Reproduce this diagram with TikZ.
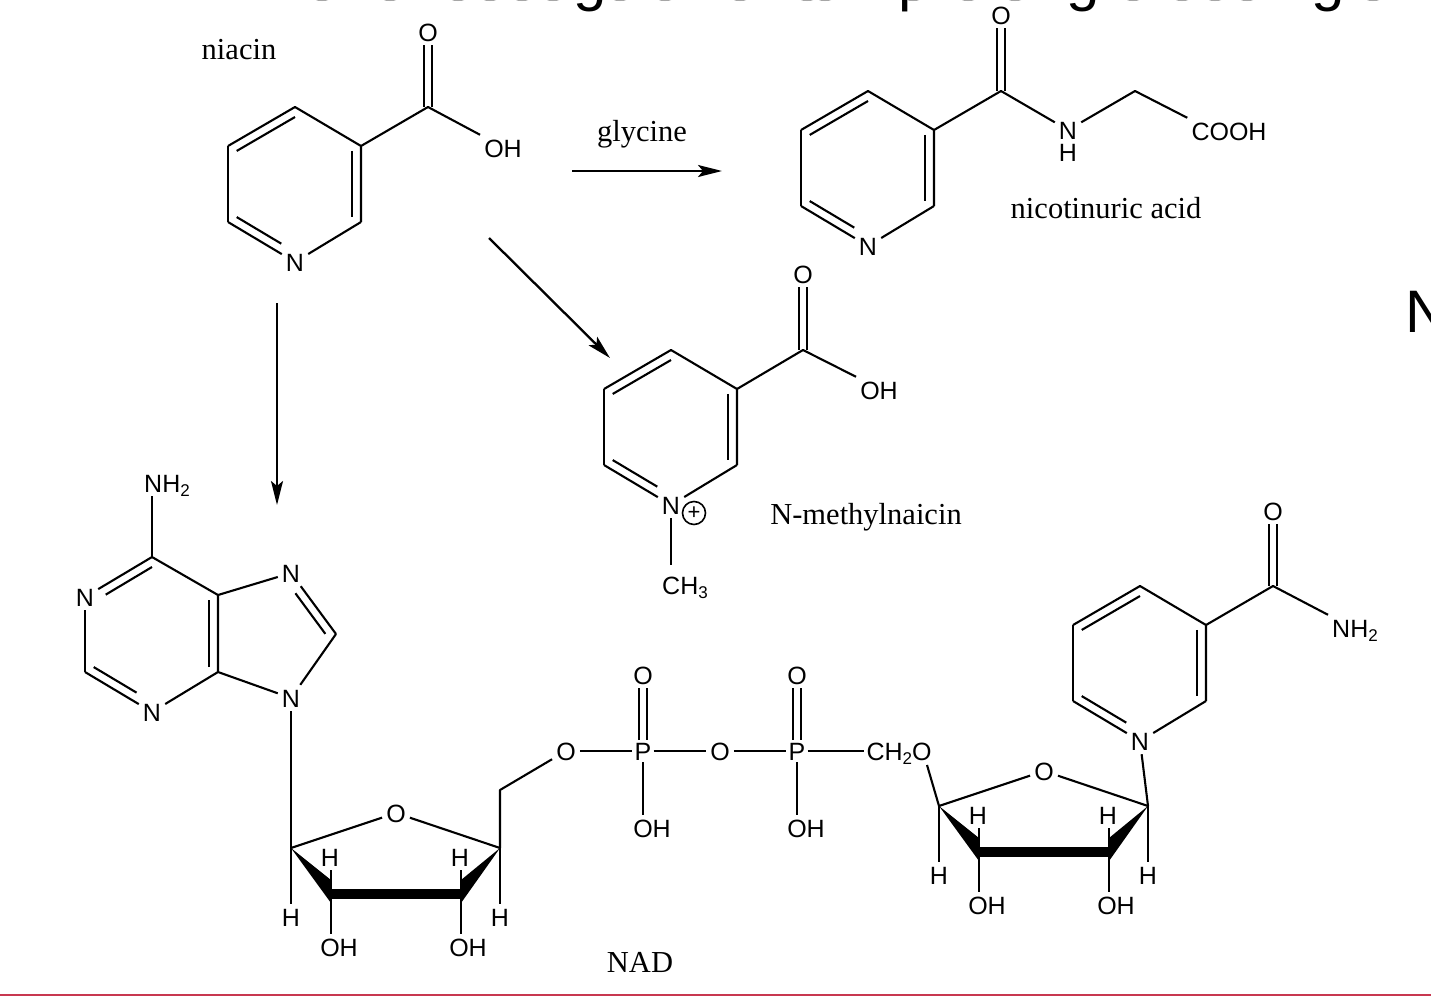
\documentclass[tikz,border=0pt]{standalone}
\usepackage{fontspec}
\setmainfont{Liberation Sans}
\newfontfamily\serifface{Liberation Serif}
\usetikzlibrary{arrows.meta,calc}
\definecolor{rulered}{RGB}{200,56,80}
\newcommand{\subnum}[1]{\raisebox{-4pt}{\fontsize{17}{17}\selectfont #1}}
\tikzset{
  atom/.style={inner sep=4pt,font=\fontsize{25}{25}\selectfont,text height=18pt,text depth=0pt},
  caption/.style={inner sep=0pt,font=\serifface\fontsize{30.5}{31}\selectfont},
  bigglyph/.style={inner sep=0pt,anchor=base,font=\fontsize{60}{60}\selectfont},
  bond/.style={line width=2.1pt,line cap=butt,line join=round},
  dblleft/.style={bond,transform canvas={xshift=-4pt}},
  dblright/.style={bond,transform canvas={xshift=4pt}},
  reaction/.style={line width=2.3pt,-{Stealth[length=24pt,width=12pt,inset=5pt]}},
}
% pyridine ring: a top, b upper right, c lower right, n nitrogen, e lower left, f upper left, m centre
\newcommand{\pyridine}[3]{%
  \begin{scope}[shift={(#2,#3)}]
    \coordinate (#1-a) at (295,107);
    \coordinate (#1-b) at (361,146);
    \coordinate (#1-c) at (361,222);
    \coordinate (#1-e) at (228,222);
    \coordinate (#1-f) at (228,146);
    \coordinate (#1-m) at (295,184);
    \node[atom] (#1-n) at (295,262) {N};
  \end{scope}
  \draw[bond] (#1-f) -- (#1-a) -- (#1-b) -- (#1-c);
  \draw[bond] (#1-c) -- (#1-n);
  \draw[bond] (#1-n) -- (#1-e);
  \draw[bond] (#1-e) -- (#1-f);
  \draw[bond] ($(#1-m)!.87!(#1-a)$) -- ($(#1-m)!.87!(#1-f)$);
  \draw[bond] ($(#1-m)!.87!(#1-b)$) -- ($(#1-m)!.87!(#1-c)$);
  \draw[bond,shorten >=16pt] ($(#1-m)!.87!(#1-e)$) -- ($(#1-m)!.87!(#1-n)$);
}
% ribose ring with wedged front bonds
\newcommand{\ribose}[3]{%
  \begin{scope}[shift={(#2,#3)}]
    \coordinate (#1-c1) at (291,848);
    \coordinate (#1-c2) at (331,894);
    \coordinate (#1-c3) at (461,894);
    \coordinate (#1-c4) at (500,848);
    \coordinate (#1-w1) at (331,880);
    \coordinate (#1-w2) at (331,903);
    \coordinate (#1-w3) at (461,880);
    \coordinate (#1-w4) at (461,903);
    \node[atom] (#1-o) at (396,813) {O};
    \node[atom] (#1-h1) at (330,857) {H};
    \node[atom] (#1-h2) at (460,857) {H};
    \node[atom] (#1-h3) at (291,917) {H};
    \node[atom] (#1-h4) at (500,917) {H};
    \node[atom] (#1-oh1) at (339,947) {OH};
    \node[atom] (#1-oh2) at (468,947) {OH};
  \end{scope}
  \draw[bond] (#1-c1) -- (#1-o);
  \draw[bond] (#1-o) -- (#1-c4);
  \fill (#1-c1) -- (#1-w1) -- (#1-w2) -- cycle;
  \fill (#1-c4) -- (#1-w3) -- (#1-w4) -- cycle;
  \draw[line width=10pt] (#1-c2) -- (#1-c3);
  \draw[bond] (#1-c1) -- (#1-h3);
  \draw[bond] (#1-c4) -- (#1-h4);
  \draw[bond] (#1-c2) -- (#1-c2 |- #1-h1.south);
  \draw[bond] (#1-c3) -- (#1-c3 |- #1-h2.south);
  \draw[bond] (#1-c2) -- (#1-c2 |- #1-oh1.north);
  \draw[bond] (#1-c3) -- (#1-c3 |- #1-oh2.north);
}
\begin{document}
\begin{tikzpicture}[x=1pt,y=-1pt]
\useasboundingbox (0,0) rectangle (1431,999);
\fill[white] (0,0) rectangle (1431,999);

% large slide text, cut off by the frame
\begin{scope}
  \clip (0,0) rectangle (1431,999);
  \node[bigglyph] (topg1) at (590,-0.5) {g};
  \node[bigglyph] (topp) at (915,-0.5) {p};
  \node[bigglyph] (topg2) at (1083,-0.5) {g};
  \node[bigglyph] (topg3) at (1328,-0.5) {g};
  \node[bigglyph,anchor=base west] (edgeN) at (1405.4,332) {N};
  \foreach \x in {322,390,458,490,522,553,620,665,740,807,825,913,968,1015,1133,1182,1215,1247,1373}
    \fill[black!35] (\x,0) ellipse [x radius=6pt,y radius=1pt];
\end{scope}

% niacin
\pyridine{nia}{0}{0}
\coordinate (niaC) at (428,107);
\node[atom] (niaO) at (428,32) {O};
\node[atom] (niaOH) at (503,148) {OH};
\draw[bond] (nia-b) -- (niaC) -- (niaOH.north west);
\draw[dblleft] (niaC) -- (niaO);
\draw[dblright] (niaC) -- (niaO);
\node[caption] (niacinlabel) at (239,49.5) {niacin};

% nicotinuric acid
\pyridine{nic}{573}{-16}
\coordinate (nicC) at (1001,91);
\coordinate (nicCH) at (1135,91);
\node[atom] (nicO) at (1001,15) {O};
\node[atom] (nicN) at (1068,130) {N};
\node[atom,inner sep=0pt] (nicH) at (1068,152) {H};
\node[atom] (nicCOOH) at (1229,131) {COOH};
\draw[bond] (nic-b) -- (nicC) -- (nicN);
\draw[bond] (nicN) -- (nicCH) -- (nicCOOH.north west);
\draw[dblleft] (nicC) -- (nicO);
\draw[dblright] (nicC) -- (nicO);
\node[caption] (niclabel) at (1106,208) {nicotinuric acid};

% N-methylniacin
\pyridine{met}{376}{243}
\coordinate (metC) at (803,350);
\node[atom] (metO) at (803,274) {O};
\node[atom] (metOH) at (879,390) {OH};
\node[atom,inner sep=0pt] (metCH) at (685,585) {CH\subnum{3}};
\node[draw,circle,line width=1.6pt,minimum size=23pt,inner sep=0pt,font=\fontsize{22}{22}\selectfont] (metplus) at (694,513) {+};
\draw[bond] (met-b) -- (metC) -- (metOH.north west);
\draw[dblleft] (metC) -- (metO);
\draw[dblright] (metC) -- (metO);
\coordinate (metCHtop) at (671,565);
\draw[bond] (met-n) -- (metCHtop);
\node[caption] (metlabel) at (866,517) {N-methylnaicin};

% nicotinamide of NAD
\pyridine{nam}{845}{479}
\coordinate (namC) at (1273,586);
\node[atom] (namO) at (1273,511) {O};
\node[atom] (namNH) at (1355,628) {NH\subnum{2}};
\draw[bond] (nam-b) -- (namC) -- (namNH.north west);
\draw[dblleft] (namC) -- (namO);
\draw[dblright] (namC) -- (namO);

% adenine
\coordinate (adeC6) at (152,557);
\coordinate (adeC2) at (85,672);
\coordinate (adeC4) at (218,672);
\coordinate (adeC5) at (218,595);
\coordinate (adeC8) at (336,634);
\coordinate (adeM) at (152,634);
\coordinate (adeP) at (265,633);
\node[atom] (adeNH) at (167,483) {NH\subnum{2}};
\node[atom] (adeN1) at (85,597) {N};
\node[atom] (adeN3) at (152,712) {N};
\node[atom] (adeN7) at (291,573) {N};
\node[atom] (adeN9) at (291,698) {N};
\draw[bond] (adeC6) -- (adeC6 |- adeNH.south);
\draw[bond] (adeC6) -- (adeN1);
\draw[bond] (adeN1) -- (adeC2);
\draw[bond] (adeC2) -- (adeN3);
\draw[bond] (adeN3) -- (adeC4) -- (adeC5) -- (adeC6);
\draw[bond] (adeC5) -- (adeN7);
\draw[bond] (adeN7) -- (adeC8);
\draw[bond] (adeC8) -- (adeN9);
\draw[bond] (adeN9) -- (adeC4);
\draw[bond,shorten >=14pt] ($(adeM)!.87!(adeC6)$) -- ($(adeM)!.87!(adeN1)$);
\draw[bond,shorten >=18pt] ($(adeM)!.87!(adeC2)$) -- ($(adeM)!.87!(adeN3)$);
\draw[bond] ($(adeM)!.87!(adeC4)$) -- ($(adeM)!.87!(adeC5)$);
\draw[bond,shorten <=14pt] ($(adeP)!.85!(adeN7)$) -- ($(adeP)!.85!(adeC8)$);

% riboses
\ribose{ra}{0}{0}
\ribose{rb}{648}{-42}
\draw[bond] (adeN9) -- (ra-c1);
\draw[bond] (nam-n) -- (rb-c4);

% phosphate bridge
\coordinate (c5) at (500,790);
\node[atom] (o1) at (566,751) {O};
\node[atom,inner sep=2pt] (p1) at (643,751) {P};
\node[atom] (o2) at (720,751) {O};
\node[atom,inner sep=2pt] (p2) at (797,751) {P};
\node[atom,inner sep=2pt] (ch2o) at (899,751) {CH\subnum{2}O};
\coordinate (ch2oend) at (927,765);
\node[atom] (p1o) at (643,675) {O};
\node[atom] (p2o) at (797,675) {O};
\node[atom] (p1oh) at (652,828) {OH};
\node[atom] (p2oh) at (806,828) {OH};
\draw[bond] (ra-c4) -- (c5) -- (o1);
\draw[bond] (o1) -- (p1);
\draw[bond] (p1) -- (o2);
\draw[bond] (o2) -- (p2);
\draw[bond] (p2) -- (ch2o);
\draw[bond] (ch2oend) -- (rb-c1);
\draw[dblleft] (p1) -- (p1o);
\draw[dblright] (p1) -- (p1o);
\draw[dblleft] (p2) -- (p2o);
\draw[dblright] (p2) -- (p2o);
\draw[bond] (p1) -- (p1 |- p1oh.north);
\draw[bond] (p2) -- (p2 |- p2oh.north);
\node[caption] (nadlabel) at (640,962) {NAD};

% reaction arrows
\coordinate (a1s) at (572,171);
\coordinate (a1e) at (722,171);
\coordinate (a2s) at (489,238);
\coordinate (a2e) at (610,358);
\coordinate (a3s) at (277,303);
\coordinate (a3e) at (277,505);
\draw[reaction] (a1s) -- (a1e);
\draw[reaction] (a2s) -- (a2e);
\draw[reaction] (a3s) -- (a3e);
\node[caption] (glylabel) at (642,134) {glycine};

% bottom rule
\coordinate (ruleL) at (0,995);
\coordinate (ruleR) at (1431,995);
\draw[rulered,line width=2pt] (ruleL) -- (ruleR);
\end{tikzpicture}
\end{document}
